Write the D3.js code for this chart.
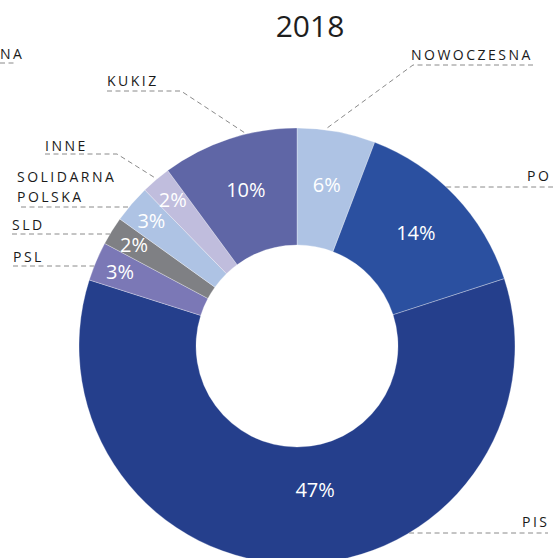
<!DOCTYPE html>
<html>
<head>
<meta charset="utf-8">
<script src="https://cdn.jsdelivr.net/npm/d3@7"></script>
<style>
  body { margin: 0; background: #fff; }
  svg { display: block; font-family: "Open Sans", "Noto Sans", sans-serif; }
</style>
</head>
<body>
<svg id="chart" width="553" height="558"></svg>
<script>
// party shares for 2018 (slice sizes, labels as printed)
var parties = ["NOWOCZESNA", "PO", "PIS", "PSL", "SLD", "SOLIDARNA POLSKA", "INNE", "KUKIZ"];
var shares = [5.8, 14.2, 59.9, 2.9, 2.1, 2.8, 2.2, 10.1];
var shareLabels = ["6%", "14%", "47%", "3%", "2%", "3%", "2%", "10%"];
var colors = ["#aec3e4", "#2b50a0", "#253f8c", "#7b78b6", "#7f8084", "#aec3e4", "#c0bddd", "#5f66a6"];

var svg = d3.select("#chart");
var cx = 297, cy = 346, R = 218, r0 = 101;

var g = svg.append("g").attr("transform", "translate(" + cx + "," + cy + ")");

var pie = d3.pie().sort(null).value(d => d.value);
var arc = d3.arc().innerRadius(r0).outerRadius(R);

var data = parties.map((p, i) => ({ name: p, value: shares[i], label: shareLabels[i], color: colors[i] }));
var arcs = pie(data);

g.selectAll("path")
    .data(arcs)
    .enter().append("path")
    .attr("d", arc)
    .attr("fill", d => d.data.color)
    .attr("stroke", "#ffffff")
    .attr("stroke-opacity", 0.5)
    .attr("stroke-width", 0.6);

// percentage labels
g.selectAll("text.pct")
    .data(arcs)
    .enter().append("text")
    .attr("class", "pct")
    .attr("text-anchor", "middle")
    .attr("dy", "0.36em")
    .attr("fill", "#ffffff")
    .style("font-size", "20px")
    .style("font-weight", 400)
    .attr("transform", d => {
        var a = (d.startAngle + d.endAngle) / 2;
        var rr = d.data.value < 5 ? 192 : 164;
        if (d.data.value > 50) { a -= 7 * Math.PI / 180; rr = 145; }
        return "translate(" + (rr * Math.sin(a)) + "," + (-rr * Math.cos(a)) + ")";
    })
    .text(d => d.data.label);

// title
svg.append("text")
    .attr("x", 310)
    .attr("y", 37)
    .attr("text-anchor", "middle")
    .attr("fill", "#1e1e1e")
    .style("font-size", "30px")
    .style("font-weight", 400)
    .text("2018");

// callouts: text position, underline, and where the leader meets the ring
var callouts = [
    { i: 0, x: 411, y: 60, lineY: 65, from: 413, to: 533, elbow: 413, angle: 7.3 },
    { i: 1, x: 527, y: 181, lineY: 187, side: "right", to: 553 },
    { i: 2, x: 522, y: 527, lineY: 533, side: "right", to: 548 },
    { i: 3, x: 13, y: 262, lineY: 266, side: "left", from: 13 },
    { i: 4, x: 12, y: 230, lineY: 234, side: "left", from: 12 },
    { i: 5, x: 17, y: 182, lineY: 207, side: "left", from: 21, lines: ["SOLIDARNA", "POLSKA"] },
    { i: 6, x: 45, y: 151, lineY: 154, from: 45, to: 117, elbow: 117, angle: 320 },
    { i: 7, x: 107, y: 86, lineY: 91, from: 107, to: 181, elbow: 181, angle: 346.6 }
];

var lead = svg.append("g")
    .attr("fill", "none")
    .attr("stroke", "#8a8a8a")
    .attr("stroke-width", 1)
    .attr("stroke-dasharray", "5,3.5");

var labels = svg.append("g")
    .attr("fill", "#1a1a1a")
    .style("font-size", "14px")
    .style("font-weight", 500)
    .style("letter-spacing", "2.5px");

callouts.forEach(c => {
    var pts;
    if (c.side === "left" || c.side === "right") {
        var dy = c.lineY - cy;
        var dx = Math.sqrt(R * R - dy * dy);
        if (c.side === "left") pts = [[c.from, c.lineY], [cx - dx, c.lineY]];
        else pts = [[cx + dx, c.lineY], [c.to, c.lineY]];
    } else {
        var a = c.angle * Math.PI / 180;
        var end = [cx + R * Math.sin(a), cy - R * Math.cos(a)];
        if (c.elbow === c.from) pts = [[c.to, c.lineY], [c.from, c.lineY], end];
        else pts = [[c.from, c.lineY], [c.elbow, c.lineY], end];
    }
    lead.append("path").attr("d", d3.line()(pts));

    var lines = c.lines || [parties[c.i]];
    lines.forEach((t, k) => {
        labels.append("text")
            .attr("x", c.x)
            .attr("y", c.y + k * 20)
            .text(t);
    });
});

// tail of the neighbouring chart's label at the left edge
labels.append("text")
    .attr("x", 0)
    .attr("y", 59)
    .text("NA");
lead.append("path").attr("d", d3.line()([[0, 63], [15, 63]]));
</script>
</body>
</html>
